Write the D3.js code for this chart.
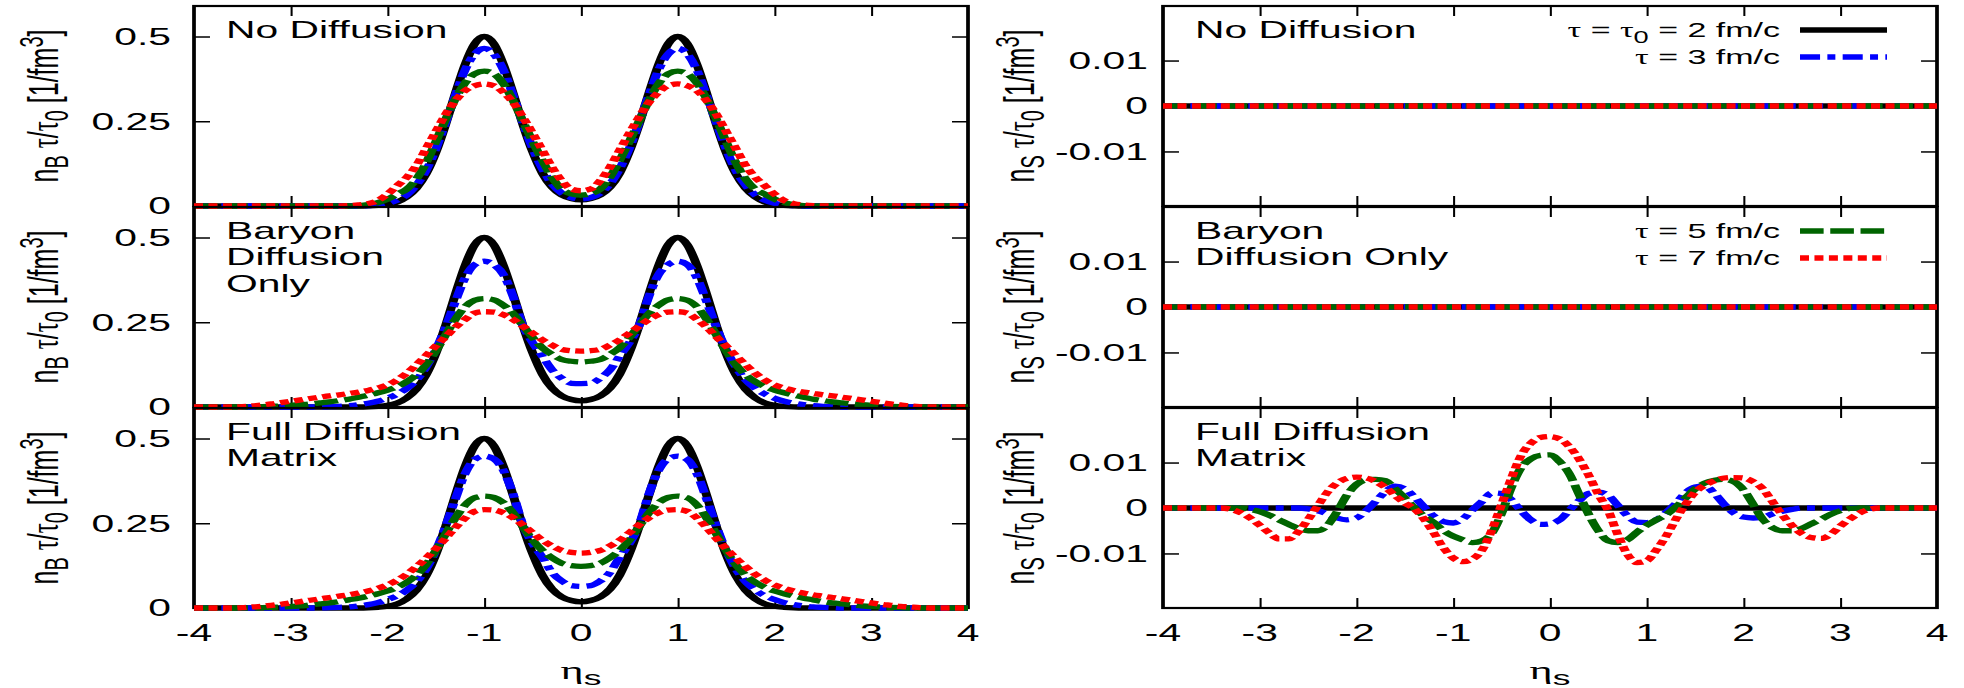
<!DOCTYPE html>
<html>
<head>
<meta charset="utf-8">
<script src="https://cdn.jsdelivr.net/npm/d3@7"></script>
<style>
  html, body { margin: 0; padding: 0; background: #ffffff; }
  svg { display: block; }
</style>
</head>
<body>
<svg id="chart"></svg>
<script>
// ---------------- DATA ----------------
const eta = [-4,-3.9,-3.8,-3.7,-3.6,-3.5,-3.4,-3.3,-3.2,-3.1,-3,-2.9,-2.8,-2.7,-2.6,-2.5,-2.4,-2.3,-2.2,-2.1,-2,-1.9,-1.8,-1.7,-1.6,-1.5,-1.4,-1.3,-1.2,-1.1,-1,-0.9,-0.8,-0.7,-0.6,-0.5,-0.4,-0.3,-0.2,-0.1,0,0.1,0.2,0.3,0.4,0.5,0.6,0.7,0.8,0.9,1,1.1,1.2,1.3,1.4,1.5,1.6,1.7,1.8,1.9,2,2.1,2.2,2.3,2.4,2.5,2.6,2.7,2.8,2.9,3,3.1,3.2,3.3,3.4,3.5,3.6,3.7,3.8,3.9,4];
const etaFlat = [-4, 4];
const nS_zero = [0, 0];

const xTicks = [-4,-3,-2,-1,0,1,2,3,4];
const nBTicks = [0, 0.25, 0.5];
const nSTicks = [-0.01, 0, 0.01];

const panelTitlesLeft = [["No Diffusion"], ["Baryon", "Diffusion", "Only"], ["Full Diffusion", "Matrix"]];
const panelTitlesRight = [["No Diffusion"], ["Baryon", "Diffusion Only"], ["Full Diffusion", "Matrix"]];

// initial profile (tau = tau0 = 2 fm/c), identical in all three rows
const nB_tau2 = [0,0,0,0,0,0,0,0,0,0,0,0,0,0,0,0,0,0,
0.0005,0.002,0.005,0.012,0.027,0.053,0.095,0.158,0.24,0.331,0.416,0.478,0.5,0.478,0.416,0.331,0.24,0.16,0.097,0.056,0.033,0.022,
0.018,
0.022,0.033,0.056,0.097,0.16,0.24,0.331,0.416,0.478,0.5,0.478,0.416,0.331,0.24,0.158,0.095,0.053,0.027,0.012,0.005,0.002,0.0005,
0,0,0,0,0,0,0,0,0,0,0,0,0,0,0,0,0,0];

// Row 1: no diffusion
const nB1_tau3 = [0,0,0,0,0,0,0,0,0,0,0,0,0,0,0,0,0,0,
0.001,0.003,0.008,0.017,0.033,0.062,0.105,0.168,0.245,0.325,0.4,0.448,0.465,0.448,0.4,0.325,0.245,0.17,0.11,0.065,0.038,0.025,
0.021,
0.025,0.038,0.065,0.11,0.17,0.245,0.325,0.4,0.448,0.465,0.448,0.4,0.325,0.245,0.168,0.105,0.062,0.033,0.017,0.008,0.003,0.001,
0,0,0,0,0,0,0,0,0,0,0,0,0,0,0,0,0,0];
const nB1_tau5 = [0,0,0,0,0,0,0,0,0,0,0,0,0,0,0,0,0,
0.001,0.004,0.01,0.02,0.035,0.05,0.08,0.128,0.19,0.255,0.315,0.362,0.39,0.398,0.39,0.36,0.31,0.25,0.19,0.135,0.085,0.05,0.036,
0.032,
0.036,0.05,0.085,0.135,0.19,0.25,0.31,0.36,0.39,0.398,0.39,0.362,0.315,0.255,0.19,0.128,0.08,0.05,0.035,0.02,0.01,0.004,0.001,
0,0,0,0,0,0,0,0,0,0,0,0,0,0,0,0,0];
const nB1_tau7 = [0,0,0,0,0,0,0,0,0,0,0,0,0,0,0,0,
0.001,0.003,0.007,0.016,0.035,0.06,0.085,0.12,0.17,0.22,0.27,0.31,0.34,0.355,0.36,0.355,0.335,0.305,0.262,0.215,0.165,0.115,0.075,0.05,
0.045,
0.05,0.075,0.115,0.165,0.215,0.262,0.305,0.335,0.355,0.36,0.355,0.34,0.31,0.27,0.22,0.17,0.12,0.085,0.06,0.035,0.016,0.007,0.003,0.001,
0,0,0,0,0,0,0,0,0,0,0,0,0,0,0,0];

// Row 2: baryon diffusion only
const nB2_tau3 = [0,0,0,0,0,0,0,0,0,0,0,0,0,0,
0.001,0.002,0.004,0.007,0.011,0.017,0.026,0.038,0.055,0.08,0.118,0.17,0.235,0.31,0.38,0.42,0.43,0.42,0.39,0.325,0.24,0.19,0.15,0.11,0.085,0.07,
0.069,
0.07,0.085,0.11,0.15,0.19,0.24,0.325,0.39,0.42,0.43,0.42,0.38,0.31,0.235,0.17,0.118,0.08,0.055,0.038,0.026,0.017,0.011,0.007,0.004,0.002,0.001,
0,0,0,0,0,0,0,0,0,0,0,0,0,0];
const nB2_tau5 = [0,0,0,0,0,0,0,
0.001,0.002,0.003,0.005,0.007,0.009,0.012,0.015,0.019,0.023,0.029,0.035,0.042,0.05,0.06,0.075,0.095,0.125,0.165,0.212,0.258,0.295,0.315,0.32,0.316,0.3,0.275,0.24,0.205,0.175,0.155,0.14,0.135,
0.133,
0.135,0.14,0.155,0.175,0.205,0.24,0.275,0.3,0.316,0.32,0.315,0.295,0.258,0.212,0.165,0.125,0.095,0.075,0.06,0.05,0.042,0.035,0.029,0.023,0.019,0.015,0.012,0.009,0.007,0.005,0.003,0.002,0.001,
0,0,0,0,0,0,0];
const nB2_tau7 = [0,0,0,0,0,
0.001,0.003,0.006,0.009,0.013,0.017,0.021,0.025,0.029,0.033,0.036,0.04,0.044,0.049,0.056,0.065,0.08,0.1,0.125,0.152,0.18,0.207,0.235,0.258,0.277,0.281,0.28,0.272,0.258,0.238,0.218,0.198,0.183,0.17,0.166,
0.165,
0.166,0.17,0.183,0.198,0.218,0.238,0.258,0.272,0.28,0.281,0.277,0.258,0.235,0.207,0.18,0.152,0.125,0.1,0.08,0.065,0.056,0.049,0.044,0.04,0.036,0.033,0.029,0.025,0.021,0.017,0.013,0.009,0.006,0.003,0.001,
0,0,0,0,0];

// Row 3: full diffusion matrix
const nB3_tau3 = [0,0,0,0,0,0,0,0,0,0,0,0,0,0,
0.001,0.002,0.003,0.006,0.01,0.016,0.025,0.036,0.053,0.078,0.115,0.17,0.24,0.32,0.395,0.438,0.448,0.44,0.405,0.335,0.245,0.19,0.15,0.105,0.08,0.066,
0.064,
0.066,0.08,0.105,0.15,0.19,0.245,0.335,0.405,0.44,0.448,0.438,0.395,0.32,0.24,0.17,0.115,0.078,0.053,0.036,0.025,0.016,0.01,0.006,0.003,0.002,0.001,
0,0,0,0,0,0,0,0,0,0,0,0,0,0];
const nB3_tau5 = [0,0,0,0,0,0,0,
0.001,0.002,0.003,0.004,0.006,0.009,0.012,0.015,0.019,0.024,0.029,0.035,0.042,0.05,0.061,0.076,0.097,0.128,0.17,0.218,0.265,0.303,0.325,0.33,0.326,0.31,0.28,0.24,0.2,0.17,0.148,0.132,0.125,
0.123,
0.125,0.132,0.148,0.17,0.2,0.24,0.28,0.31,0.326,0.33,0.325,0.303,0.265,0.218,0.17,0.128,0.097,0.076,0.061,0.05,0.042,0.035,0.029,0.024,0.019,0.015,0.012,0.009,0.006,0.004,0.003,0.002,0.001,
0,0,0,0,0,0,0];
const nB3_tau7 = [0,0,0,0,0,
0.001,0.003,0.005,0.008,0.011,0.015,0.019,0.023,0.027,0.031,0.035,0.039,0.044,0.05,0.058,0.068,0.082,0.1,0.122,0.147,0.175,0.205,0.237,0.265,0.285,0.29,0.289,0.281,0.266,0.245,0.222,0.2,0.183,0.17,0.164,
0.162,
0.164,0.17,0.183,0.2,0.222,0.245,0.266,0.281,0.289,0.29,0.285,0.265,0.237,0.205,0.175,0.147,0.122,0.1,0.082,0.068,0.058,0.05,0.044,0.039,0.035,0.031,0.027,0.023,0.019,0.015,0.011,0.008,0.005,0.003,0.001,
0,0,0,0,0];

// Strangeness, row 3 (full diffusion matrix); rows 1-2 and tau0 are zero
const nS3_tau3 = [0,0,0,0,0,0,0,0,0,0,0,0,0,0,0,
-0.0002,-0.0006,-0.0013,-0.0022,-0.0026,-0.0022,-0.0006,0.0015,0.0036,0.0048,0.0042,0.0024,0.0002,-0.0018,-0.003,-0.0033,-0.0024,-0.0004,0.0015,0.0033,0.0032,0.0018,-0.0006,-0.0026,-0.0036,
-0.0035,
-0.0026,-0.0005,0.0016,0.0032,0.0035,0.0028,0.0006,-0.0017,-0.0031,-0.0032,-0.0026,-0.001,0.001,0.0033,0.0046,0.0048,0.0032,0.0008,-0.0011,-0.002,-0.0022,-0.002,-0.0013,-0.0007,-0.0003,
0,0,0,0,0,0,0,0,0,0,0,0,0,0,0];
const nS3_tau5 = [0,0,0,0,0,0,0,0,0,
-0.0003,-0.0008,-0.0016,-0.0026,-0.0036,-0.0045,-0.005,-0.005,-0.0038,-0.0008,0.0028,0.0052,0.0062,0.0063,0.006,0.0042,0.0022,0,-0.0018,-0.0032,-0.005,-0.0062,-0.007,-0.0076,-0.0072,-0.0055,-0.0012,0.0045,0.0088,0.0108,0.0116,
0.0117,
0.0102,0.0075,0.003,-0.0014,-0.005,-0.0072,-0.0076,-0.007,-0.0053,-0.0038,-0.0026,-0.0015,0.0002,0.0022,0.0042,0.0055,0.0061,0.0063,0.0058,0.004,0.0008,-0.0025,-0.0043,-0.005,-0.005,-0.0045,-0.0035,-0.0025,-0.0014,-0.0006,-0.0001,
0,0,0,0,0,0,0,0,0];
const nS3_tau7 = [0,0,0,0,0,0,0,
-0.0003,-0.001,-0.0022,-0.0038,-0.0055,-0.0068,-0.0068,-0.0052,-0.0025,0.0005,0.0035,0.0055,0.0065,0.0068,0.0066,0.0058,0.0045,0.0027,0.0011,-0.0002,-0.0025,-0.0055,-0.0088,-0.011,-0.0118,-0.0112,-0.0092,-0.0048,0.0008,0.0065,0.0115,0.0142,0.0155,
0.0157,
0.0152,0.0135,0.0108,0.0072,0.003,-0.0005,-0.0058,-0.0102,-0.012,-0.0116,-0.0092,-0.0062,-0.0025,0.0008,0.0035,0.005,0.006,0.0066,0.0067,0.0066,0.0058,0.0042,0.0014,-0.0015,-0.0038,-0.0056,-0.0065,-0.0067,-0.0058,-0.004,-0.0024,-0.0011,-0.0003,
0,0,0,0,0,0,0];

[nB_tau2,nB1_tau3,nB1_tau5,nB1_tau7,nB2_tau3,nB2_tau5,nB2_tau7,nB3_tau3,nB3_tau5,nB3_tau7,nS3_tau3,nS3_tau5,nS3_tau7]
  .forEach((a, i) => { if (a.length !== eta.length) throw new Error('series ' + i + ' length ' + a.length); });

// ---------------- LAYOUT ----------------
const W = 1964, H = 688;
const S = 1.7;                 // the original figure is stretched horizontally
const FONT = "'Liberation Sans', Arial, Helvetica, sans-serif";
const GREEK = "'Liberation Serif', 'DejaVu Serif', serif";
const FS = 24;
const LW = 5.3;
const tops = [6, 207, 408], PH = 200;

const styles = [
  { color: '#000000', dash: null },
  { color: '#0000ff', dash: '11.8,4.3,4.7,4.3' },
  { color: '#006400', dash: '13.9,3.9' },
  { color: '#ff0000', dash: '5.3,3.2' }
];

const svg = d3.select('#chart').attr('width', W).attr('height', H);
svg.append('rect').attr('width', W).attr('height', H).attr('fill', '#ffffff');
const root = svg.append('g')
  .attr('transform', `scale(${S},1)`)
  .attr('font-family', FONT)
  .attr('font-size', FS)
  .style('white-space', 'pre');

const xL = d3.scaleLinear().domain([-4, 4]).range([194 / S, 968 / S]);
const xR = d3.scaleLinear().domain([-4, 4]).range([1163 / S, 1937 / S]);
const yBscale = top => d3.scaleLinear().domain([0, 0.59]).range([top + PH, top]);
const ySscale = top => d3.scaleLinear().domain([-0.022, 0.022]).range([top + PH, top]);

function rich(sel, parts, fs) {
  let shift = 0;
  parts.forEach(([t, k]) => {
    const target = (k === 'sub') ? 6 : (k === 'sup' ? -9 : 0);
    const ts = sel.append('tspan').text(t).attr('dy', target - shift);
    shift = target;
    if (k === 'sub' || k === 'sup') ts.attr('font-size', fs * 0.8);
    if (k === 'g') ts.attr('font-family', GREEK);
  });
  return sel;
}

function tickAxis(g, axis, tx, ty, w) {
  g.append('g').attr('transform', `translate(${tx},${ty})`)
    .call(axis.tickFormat(''))
    .call(a => a.select('.domain').remove())
    .call(a => a.selectAll('text').remove())
    .selectAll('line').attr('stroke-width', w);
}

function drawPanelFrame(g, x, y, yTicks) {
  const [x0, x1] = x.range();
  const [yb, yt] = y.range();
  const inner = xTicks.slice(1, -1);
  tickAxis(g, d3.axisTop(x).tickValues(inner).tickSize(10), 0, yb, 1.2);
  tickAxis(g, d3.axisBottom(x).tickValues(inner).tickSize(10), 0, yt, 1.2);
  tickAxis(g, d3.axisRight(y).tickValues(yTicks).tickSize(9.4), x0, 0, 1.5);
  tickAxis(g, d3.axisLeft(y).tickValues(yTicks).tickSize(9.4), x1, 0, 1.5);
  g.append('rect').attr('x', x0).attr('y', yt).attr('width', x1 - x0).attr('height', yb - yt)
    .attr('fill', 'none').attr('stroke', '#000').attr('stroke-width', 2.2);
}

function drawSeries(g, xs, ys, x, y, st) {
  const line = d3.line().x(d => x(d[0])).y(d => y(d[1])).curve(d3.curveMonotoneX);
  g.append('path')
    .datum(xs.map((v, i) => [v, ys[i]]))
    .attr('d', line)
    .attr('fill', 'none')
    .attr('stroke', st.color)
    .attr('stroke-width', LW)
    .attr('stroke-linejoin', 'round')
    .attr('stroke-linecap', 'butt')
    .attr('stroke-dasharray', st.dash);
}

function panelText(lines, xPos, top) {
  lines.forEach((t, i) => {
    root.append('text').attr('x', xPos).attr('y', top + 32 + i * 26.5).text(t);
  });
}

const YLAB_FS = 25;

// ---------------- LEFT PLOT (n_B) ----------------
const leftData = [
  [nB_tau2, nB1_tau3, nB1_tau5, nB1_tau7],
  [nB_tau2, nB2_tau3, nB2_tau5, nB2_tau7],
  [nB_tau2, nB3_tau3, nB3_tau5, nB3_tau7]
];
tops.forEach((top, r) => {
  const y = yBscale(top);
  const g = root.append('g');
  drawPanelFrame(g, xL, y, nBTicks);
  leftData[r].forEach((ys, k) => drawSeries(g, eta, ys, xL, y, styles[k]));
  panelText(panelTitlesLeft[r], 226 / S, top);
  nBTicks.forEach(v => {
    root.append('text').attr('x', 171 / S).attr('y', y(v)).attr('dy', '0.35em')
      .attr('text-anchor', 'end').text(String(v));
  });
  const lab = root.append('text').attr('text-anchor', 'middle').attr('font-size', YLAB_FS)
    .attr('transform', `translate(${58 / S},${top + PH / 2}) rotate(-90)`);
  rich(lab, [['n'], ['B', 'sub'], [' '], ['τ', 'g'], ['/'], ['τ', 'g'], ['0', 'sub'], [' [1/fm'], ['3', 'sup'], [']']], YLAB_FS);
});

// ---------------- RIGHT PLOT (n_S) ----------------
tops.forEach((top, r) => {
  const y = ySscale(top);
  const g = root.append('g');
  drawPanelFrame(g, xR, y, nSTicks);
  if (r < 2) {
    styles.forEach(st => drawSeries(g, etaFlat, nS_zero, xR, y, st));
  } else {
    drawSeries(g, etaFlat, nS_zero, xR, y, styles[0]);
    [nS3_tau3, nS3_tau5, nS3_tau7].forEach((ys, k) => drawSeries(g, eta, ys, xR, y, styles[k + 1]));
  }
  panelText(panelTitlesRight[r], 1195 / S, top);
  nSTicks.forEach(v => {
    root.append('text').attr('x', 1148 / S).attr('y', y(v)).attr('dy', '0.35em')
      .attr('text-anchor', 'end').text(String(v));
  });
  const lab = root.append('text').attr('text-anchor', 'middle').attr('font-size', YLAB_FS)
    .attr('transform', `translate(${1034 / S},${top + PH / 2}) rotate(-90)`);
  rich(lab, [['n'], ['S', 'sub'], [' '], ['τ', 'g'], ['/'], ['τ', 'g'], ['0', 'sub'], [' [1/fm'], ['3', 'sup'], [']']], YLAB_FS);
});

// ---------------- LEGEND ----------------
const LEG_FS = 20;
const legendParts = [
  [['τ', 'g'], [' = '], ['τ', 'g'], ['0', 'sub'], [' = 2 fm/c']],
  [['τ', 'g'], [' = 3 fm/c']],
  [['τ', 'g'], [' = 5 fm/c']],
  [['τ', 'g'], [' = 7 fm/c']]
];
const legendRows = [tops[0] + 24, tops[0] + 51, tops[1] + 24, tops[1] + 51];
legendParts.forEach((parts, k) => {
  const cy = legendRows[k];
  const t = root.append('text').attr('x', 1780 / S).attr('y', cy + 7.5)
    .attr('text-anchor', 'end').attr('font-size', LEG_FS);
  rich(t, parts, LEG_FS);
  root.append('line').attr('x1', 1800 / S).attr('x2', 1887 / S).attr('y1', cy).attr('y2', cy)
    .attr('stroke', styles[k].color).attr('stroke-width', LW)
    .attr('stroke-dasharray', styles[k].dash);
});

// ---------------- X AXIS LABELS ----------------
[xL, xR].forEach(x => {
  xTicks.forEach(v => {
    root.append('text').attr('x', x(v)).attr('y', 641).attr('text-anchor', 'middle').text(String(v));
  });
  const c = (x.range()[0] + x.range()[1]) / 2;
  const t = root.append('text').attr('x', c).attr('y', 679).attr('text-anchor', 'middle').attr('font-size', 26);
  rich(t, [['η', 'g'], ['s', 'sub']], 26);
});
</script>
</body>
</html>
